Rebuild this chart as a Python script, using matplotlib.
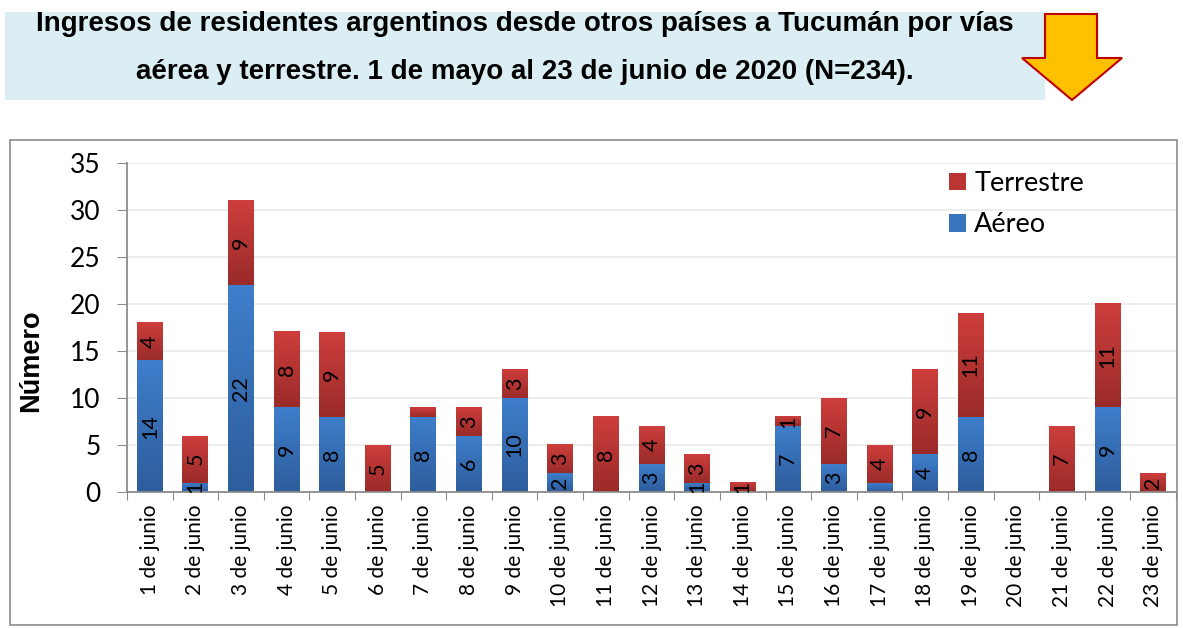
import matplotlib
matplotlib.use("Agg")
import matplotlib.pyplot as plt
import numpy as np
from matplotlib.patches import Rectangle, Polygon
from matplotlib.colors import LinearSegmentedColormap

# ---- data ----
categories = [f"{d} de junio" for d in range(1, 24)]
aereo = [14, 1, 22, 9, 8, 0, 8, 6, 10, 2, 0, 3, 1, 0, 7, 3, 1, 4, 8, 0, 0, 9, 0]
terrestre = [4, 5, 9, 8, 9, 5, 1, 3, 3, 3, 8, 4, 3, 1, 1, 7, 4, 9, 11, 0, 7, 11, 2]
# labels shown in the original (some small segments unlabeled)
aereo_labels = ["14", "1", "22", "9", "8", "", "8", "6", "10", "2", "", "3", "1", "", "7", "3", "", "4", "8", "", "", "9", ""]
terrestre_labels = ["4", "5", "9", "8", "9", "5", "", "3", "3", "3", "8", "4", "3", "1", "1", "7", "4", "9", "11", "", "7", "11", "2"]
title_lines = ["Ingresos de residentes argentinos desde otros países a Tucumán por vías",
               "aérea y terrestre. 1 de mayo al 23 de junio de 2020 (N=234)."]

W, H = 1183, 628
fig = plt.figure(figsize=(W / 100, H / 100), dpi=100)
fig.patch.set_facecolor("white")

def fx(px):
    return px / W

def fy(py):
    return 1 - py / H

# chart frame
fig.patches.append(Rectangle((fx(10), fy(625)), fx(1177) - fx(10), fy(140) - fy(625),
                             transform=fig.transFigure, facecolor="none",
                             edgecolor="#8c8c8c", linewidth=1.2, zorder=5))
# title box
fig.patches.append(Rectangle((fx(5), fy(100)), fx(1045) - fx(5), fy(12) - fy(100),
                             transform=fig.transFigure, facecolor="#DAEEF3",
                             edgecolor="none", zorder=1))
# arrow
pts = [(1045, 14), (1097, 14), (1097, 58), (1122, 58), (1072, 100), (1022, 58), (1045, 58)]
fig.patches.append(Polygon([(fx(x), fy(y)) for x, y in pts], closed=True,
                           transform=fig.transFigure, facecolor="#FFC000",
                           edgecolor="#C00000", linewidth=1.5, zorder=2))
for i, line in enumerate(title_lines):
    fig.text(fx(525), fy(24 + 48 * i), line, ha="center", va="center",
             fontsize=20, fontweight="bold", family="Liberation Sans", color="black",
             zorder=3)

ax = fig.add_axes([fx(127), fy(492), fx(1176) - fx(127), fy(163) - fy(492)])
ax.set_facecolor("none")

x = np.arange(len(categories))
bw = 0.57
blue_c = "#3A74BD"
red_c = "#BA3633"
b1 = ax.bar(x, aereo, bw, color=blue_c, label="Aéreo", zorder=2)
b2 = ax.bar(x, terrestre, bw, bottom=aereo, color=red_c, label="Terrestre", zorder=2)

cm_blue = LinearSegmentedColormap.from_list("b", ["#2E5D9C", "#3E7ECB"])
cm_red = LinearSegmentedColormap.from_list("r", ["#9A2B29", "#CD3E3C"])
grad = np.linspace(0, 1, 64).reshape(-1, 1)
for bars, cm in ((b1, cm_blue), (b2, cm_red)):
    for p in bars:
        if p.get_height() <= 0:
            continue
        x0, y0 = p.get_x(), p.get_y()
        ax.imshow(grad, cmap=cm, origin="lower", aspect="auto",
                  extent=[x0, x0 + p.get_width(), y0, y0 + p.get_height()],
                  zorder=2.5, interpolation="bilinear")

ax.bar_label(b1, labels=aereo_labels, label_type="center", rotation=90,
             fontsize=15.5, family="Lato", color="black", zorder=4)
ax.bar_label(b2, labels=terrestre_labels, label_type="center", rotation=90,
             fontsize=15.5, family="Lato", color="black", zorder=4)

ax.set_xlim(-0.5, len(categories) - 0.5)
ax.set_ylim(0, 35)
ax.set_yticks(range(0, 36, 5))
ax.set_yticklabels([str(v) for v in range(0, 36, 5)], fontsize=19, family="Lato")
ax.set_xticks(np.arange(len(categories) + 1) - 0.5, minor=False)
ax.set_xticklabels([])
ax.set_xticks(x, minor=True)
ax.set_xticklabels(categories, minor=True, rotation=90, fontsize=15, family="Lato")
ax.tick_params(axis="x", which="minor", length=0, pad=9)
ax.tick_params(axis="x", which="major", length=6, color="#8c8c8c", direction="out")
ax.tick_params(axis="y", length=7, color="#8c8c8c", direction="out", pad=12)

ax.yaxis.grid(True, color="#ECECEC", linewidth=1.3, zorder=0)
ax.set_axisbelow(True)
for s in ("top", "right"):
    ax.spines[s].set_visible(False)
for s in ("left", "bottom"):
    ax.spines[s].set_color("#8c8c8c")
    ax.spines[s].set_linewidth(1.3)

ax.set_ylabel("Número", fontsize=19.5, fontweight="bold", family="Liberation Sans")
ax.yaxis.set_label_coords((44 - 127) / (1176 - 127), (492 - 361) / (492 - 163))

handles = [b2, b1]
leg = ax.legend(handles, ["Terrestre", "Aéreo"], loc="upper left",
                bbox_to_anchor=((949 - 127) / (1176 - 127), (492 - 171) / (492 - 163)),
                frameon=False, borderpad=0, borderaxespad=0,
                prop={"family": "Lato", "size": 19.5}, handlelength=0.63, handleheight=0.63,
                handletextpad=0.3, labelspacing=0.6)

fig.savefig("out.png", dpi=100)
